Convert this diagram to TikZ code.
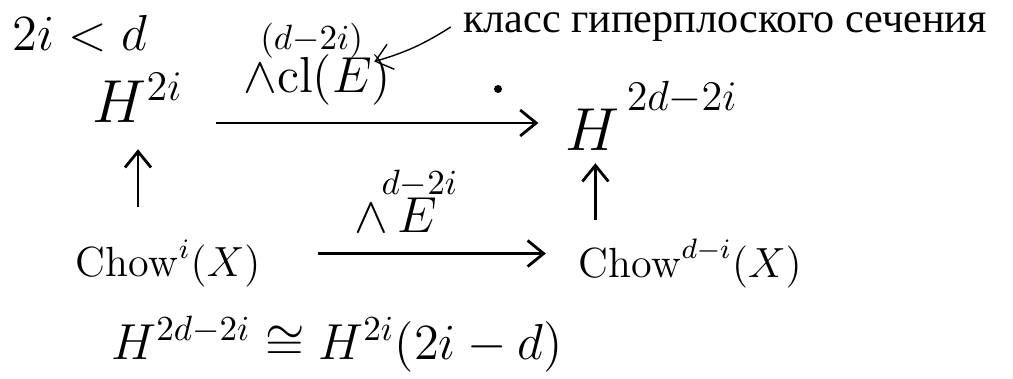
\documentclass[tikz,border=0pt]{standalone}
\usepackage{amsmath,amssymb,mathtools}
\usepackage{fontspec}
\newfontfamily\rufont{Liberation Serif}
\usetikzlibrary{arrows.meta,positioning,calc}

\begin{document}
\begin{tikzpicture}[node distance=1cm, every node/.style={align=center},
    >={Straight Barb[length=1.6mm,width=2.6mm]},
    obj/.style={font=\LARGE}, ch/.style={font=\large}, lab/.style={font=\Large}]
  \useasboundingbox (0,0) rectangle (10.13,-3.78);
  \node[lab] (cond) at (0.8,-0.34) {$2i<d$};
  \node[obj] (H2i) at (1.38,-0.98) {$H^{2i}$};
  \node[obj] (H2d) at (6.52,-1.16) {$H^{\mkern3mu\raisebox{0.7ex}{$\scriptstyle 2d-2i$}}$};
  \node[ch] (Ci) [below=0.92cm of H2i, xshift=3mm] {$\mathrm{Chow}^{i}(X)$};
  \node[ch] (Cdi) at (Ci -| 6.9,0) {$\mathrm{Chow}^{d-i}(X)$};
  \node[lab] (iso) at (3.37,-3.44) {$H^{2d-2i}\cong H^{2i}(2i-d)$};
  \node (note) at (7.25,-0.27) {\rufont\large класс гиперплоского сечения};
  \node[circle, fill, inner sep=0.8pt] (dot) at (4.98,-0.89) {};
  % rows
  \draw[->,thick,shorten <=2mm,shorten >=1.5mm] ([yshift=-2.5mm]H2i.east) -- ([yshift=-2.5mm]H2i.east -| H2d.west)
    node[pos=0.34, above=0.5mm, lab] (clE) {$\overset{\mathrlap{(d-2i)}}{\wedge}\mathrm{cl}(E)$};
  \draw[->,thick,shorten <=4.5mm,shorten >=2mm] ([yshift=1mm]Ci.east) -- ([yshift=1mm]Ci.east -| Cdi.west)
    node[pos=0.42, above=0.8mm, lab] (wE) {$\overset{\mathrlap{\;d-2i}}{\wedge}\,E$};
  % columns
  \draw[->,thick,shorten <=2mm,shorten >=1.4mm] (Ci.north -| H2i.south) -- (H2i.south);
  \draw[->,thick,shorten <=0.7mm] ([xshift=4.2mm]Cdi.north -| H2d.south west) -- ([xshift=4.2mm]H2d.south west);
  \draw[->] (note.west) to[bend left=8] ([xshift=-3mm]clE.east);
\end{tikzpicture}
\end{document}
